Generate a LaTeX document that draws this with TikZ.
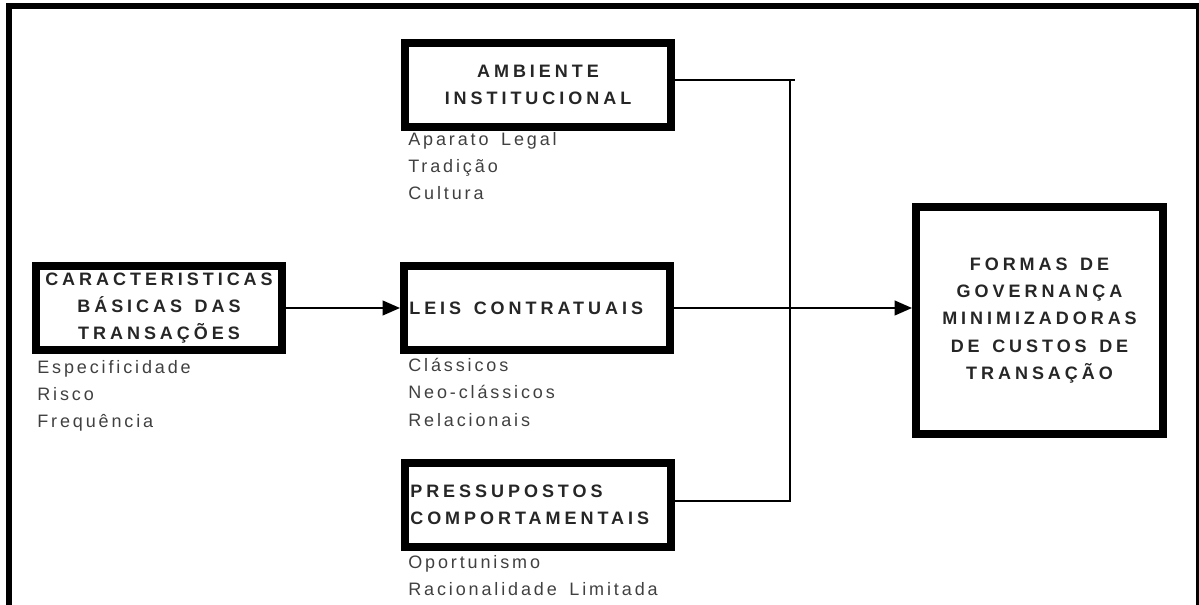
\documentclass[tikz,border=0pt]{standalone}
\usepackage{fontspec}
\setmainfont{Liberation Sans}
\newfontfamily\spacedfont{Liberation Sans}[LetterSpace=16, WordSpace=1.6]
\newfontfamily\boxfont{Liberation Sans Bold}[LetterSpace=22, WordSpace=1.4]
\usepackage{tikz}
\usetikzlibrary{positioning, arrows.meta}

\begin{document}
\begin{tikzpicture}[x=0.75pt, y=-0.75pt,
box/.style={draw, line width=6pt, minimum width=199.5pt, minimum height=63pt, inner sep=4pt, text=black!85, font=\boxfont\fontsize{13.5}{20.5}\selectfont},
items/.style={anchor=north west, inner sep=0pt, align=left, text=black!75, font=\spacedfont\fontsize{13.5}{20.5}\selectfont},
arr/.style={line width=1.5pt, -{Triangle[length=13pt, width=11pt]}},
link/.style={line width=1.5pt}]
\useasboundingbox (0,0) rectangle (1199,605);

% outer frame, open at the bottom
\draw[line width=4.5pt] (9,605) -- (9,6) -- (1199,6) -- (1199,605);

\node[box, align=center] (amb) at (538,85) {AMBIENTE\\INSTITUCIONAL};
\node[box, minimum width=184.5pt, align=center] (car) at (159,308) {CARACTERISTICAS\\BÁSICAS DAS\\TRANSAÇÕES};
\node[box, align=left] (leis) at (537,308) {\makebox[191.5pt][l]{LEIS CONTRATUAIS}};
\node[box, align=left] (pres) at (538,505) {PRESSUPOSTOS\\\makebox[191.5pt][l]{COMPORTAMENTAIS}};
\node[box, minimum width=185.25pt, minimum height=170pt, align=center] (formas) at (1039.5,320.5) {FORMAS DE\\GOVERNANÇA\\MINIMIZADORAS\\DE CUSTOS DE\\TRANSAÇÃO};

\node[items] (ambitems) at (408,132) {Aparato Legal\\Tradição\\Cultura};
\node[items] (caritems) at (37,360) {Especificidade\\Risco\\Frequência};
\node[items] (leisitems) at (408,358) {Clássicos\\Neo-clássicos\\Relacionais};
\node[items] (presitems) at (408,555) {Oportunismo\\Racionalidade Limitada};

\coordinate (jt) at (790,80);
\coordinate (jend) at (795,80);
\coordinate (jb) at (790,501);

\draw[link] (amb.east |- jt) -- (jend);
\draw[link] (jt) -- (jb) -- (pres.east |- jb);
\draw[arr] (car.east) -- (leis.west);
\draw[arr] (leis.east) -- (formas.west |- leis.east);
\end{tikzpicture}
\end{document}
